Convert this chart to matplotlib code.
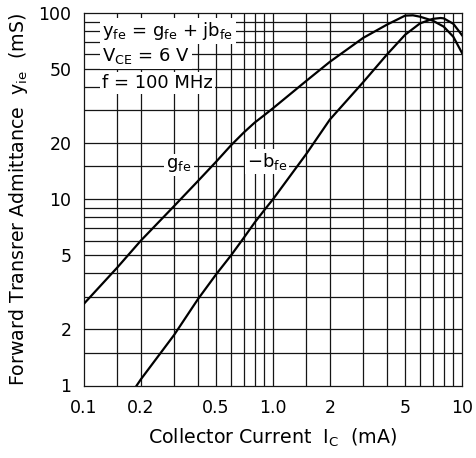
import matplotlib
matplotlib.use("Agg")
import matplotlib.pyplot as plt

plt.rcParams['font.family'] = ['DejaVu Sans']
plt.rcParams['mathtext.fontset'] = 'dejavusans'

# Values
ic_g = [0.1, 0.15, 0.2, 0.3, 0.4, 0.5, 0.6, 0.7, 0.8, 0.9, 1.0, 1.5, 2, 3, 4, 5, 5.5, 6, 7, 8, 9, 10]
g_fe = [2.75, 4.3, 6.0, 9.2, 12.5, 15.9, 19.5, 22.8, 25.8, 28.3, 30.8, 43.2, 54.7, 73.5, 86.5, 96.8, 97.2, 95.5, 91.0, 84.5, 74.5, 61.0]

ic_b = [0.19, 0.2, 0.3, 0.4, 0.5, 0.6, 0.7, 0.8, 0.9, 1.0, 1.5, 2, 3, 4, 5, 6, 7, 7.7, 8, 9, 10]
b_fe = [1.0, 1.08, 1.87, 2.9, 3.95, 5.0, 6.2, 7.5, 8.75, 10.0, 17.5, 26.8, 42.5, 59.7, 76.4, 88.0, 93.0, 94.0, 93.6, 87.5, 76.0]

x_grid = [0.15, 0.2, 0.3, 0.4, 0.5, 0.6, 0.7, 0.8, 0.9, 1.0, 1.5, 2, 3, 4, 5, 6, 7, 8, 9]
y_grid = [1.5, 2, 3, 4, 5, 6, 7, 8, 9, 10, 15, 20, 30, 40, 50, 60, 70, 80, 90]
x_ticks = [0.1, 0.2, 0.5, 1.0, 2, 5, 10]
x_labels = ['0.1', '0.2', '0.5', '1.0', '2', '5', '10']
y_ticks = [1, 2, 5, 10, 20, 50, 100]
y_labels = ['1', '2', '5', '10', '20', '50', '100']

fig = plt.figure(figsize=(4.76, 4.58), dpi=100)
ax = fig.add_axes([84 / 476, 1 - 385.5 / 458, 378 / 476, 372.5 / 458])
ax.set_xscale('log')
ax.set_yscale('log')
ax.set_xlim(0.1, 10)
ax.set_ylim(1, 100)

# grid
for xv in x_grid:
    ax.axvline(xv, color='#151515', lw=0.9, zorder=1)
for yv in y_grid:
    ax.axhline(yv, color='#151515', lw=0.9, zorder=1)
for s in ax.spines.values():
    s.set_linewidth(0.9)
    s.set_color('#151515')

# curves
ax.plot(ic_g, g_fe, color='black', lw=1.6, zorder=3)
ax.plot(ic_b, b_fe, color='black', lw=1.6, zorder=3)

ax.set_xticks(x_ticks)
ax.set_xticklabels(x_labels)
ax.set_yticks(y_ticks)
ax.set_yticklabels(y_labels)
ax.minorticks_off()
ax.tick_params(axis='both', length=0, labelsize=12.5)
ax.tick_params(axis='x', pad=10)
ax.tick_params(axis='y', pad=9)

ax.set_xlabel(r'Collector Current  I$_\mathrm{C}$  (mA)', fontsize=13.7, labelpad=7)
ax.set_ylabel(r'Forward Transrer Admittance  y$_\mathrm{ie}$  (mS)', fontsize=13.7, labelpad=6)

box = dict(facecolor='white', edgecolor='none', pad=1.5)
ax.text(0.125, 80, r'y$_\mathrm{fe}$ = g$_\mathrm{fe}$ + jb$_\mathrm{fe}$', fontsize=13,
        va='center', ha='left', bbox=box, zorder=4)
ax.text(0.125, 58.5, r'V$_\mathrm{CE}$ = 6 V', fontsize=13, va='center', ha='left', bbox=box, zorder=4)
ax.text(0.125, 42, 'f = 100 MHz', fontsize=13, va='center', ha='left', bbox=box, zorder=4)
ax.text(0.318, 15.3, r'g$_\mathrm{fe}$', fontsize=13, va='center', ha='center', bbox=box, zorder=4)
ax.text(0.93, 16.0, r'$-$b$_\mathrm{fe}$', fontsize=13, va='center', ha='center', bbox=box, zorder=4)

fig.savefig('out.png', dpi=100)
